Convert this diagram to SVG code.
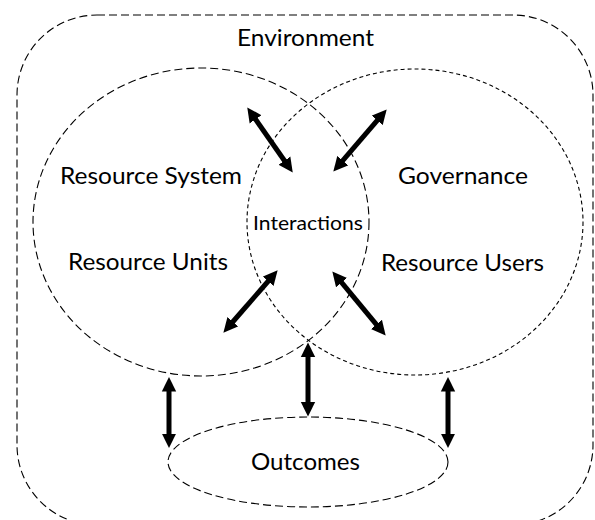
<svg xmlns="http://www.w3.org/2000/svg" width="595" height="520" viewBox="0 0 595 520">
  <style>
    .bound { fill: none; stroke: #000; stroke-width: 1.1; stroke-dasharray: 8 4; }
    .fine { fill: none; stroke: #000; stroke-width: 1.1; stroke-dasharray: 4 3; }
    .label { font-family: Lato, "Open Sans", "Liberation Sans", sans-serif; font-size: 22.5px; fill: #000; }
    .small { font-size: 20px; }
    .arrow { stroke: #000; stroke-width: 5; fill: none; marker-start: url(#head); marker-end: url(#head); }
  </style>
  <defs>
    <marker id="head" markerUnits="userSpaceOnUse" markerWidth="16" markerHeight="16" viewBox="0 0 16 16" refX="5" refY="8" orient="auto-start-reverse">
      <path d="M0,0.8 L14.5,8 L0,15.2 z" fill="#000"/>
    </marker>
  </defs>

  <g id="environment">
    <rect class="bound" x="17" y="15" width="576" height="510" rx="80" ry="80"/>
    <text class="label" x="237" y="46" textLength="137" lengthAdjust="spacingAndGlyphs">Environment</text>
  </g>

  <g id="resource-system">
    <ellipse class="bound" cx="201" cy="222" rx="168" ry="154"/>
    <text class="label" x="60" y="184" textLength="182" lengthAdjust="spacingAndGlyphs">Resource System</text>
    <text class="label" x="68" y="270" textLength="160" lengthAdjust="spacingAndGlyphs">Resource Units</text>
  </g>

  <g id="governance">
    <ellipse class="fine" cx="415" cy="222" rx="168" ry="153"/>
    <text class="label" x="398" y="184" textLength="130" lengthAdjust="spacingAndGlyphs">Governance</text>
    <text class="label" x="381" y="271" textLength="163" lengthAdjust="spacingAndGlyphs">Resource Users</text>
  </g>

  <g id="interactions">
    <text class="label small" x="253" y="230" textLength="110" lengthAdjust="spacingAndGlyphs">Interactions</text>
  </g>

  <g id="outcomes">
    <ellipse class="bound" cx="308" cy="462" rx="140" ry="45"/>
    <text class="label" x="251" y="470" textLength="109" lengthAdjust="spacingAndGlyphs">Outcomes</text>
  </g>

  <g id="connectors">
    <line class="arrow" x1="252.7" y1="115.2" x2="287.3" y2="164.8"/>
    <line class="arrow" x1="380.5" y1="116.6" x2="339.5" y2="164.4"/>
    <line class="arrow" x1="271.4" y1="277.5" x2="229.6" y2="325.5"/>
    <line class="arrow" x1="338.4" y1="278.7" x2="379.6" y2="328.3"/>
    <line class="arrow" x1="169" y1="386.5" x2="169" y2="438.5"/>
    <line class="arrow" x1="308" y1="352" x2="308" y2="407"/>
    <line class="arrow" x1="448" y1="386.5" x2="448" y2="438.5"/>
  </g>
</svg>
